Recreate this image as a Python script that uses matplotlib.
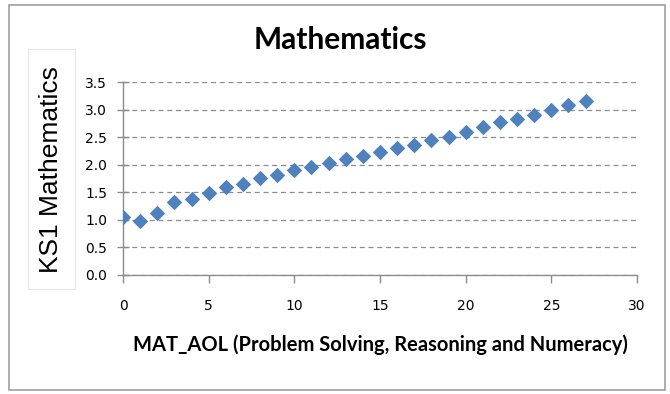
import matplotlib.pyplot as plt
from matplotlib.patches import Rectangle

# data
aol = list(range(28))
ks1 = [1.06, 0.98, 1.12, 1.32, 1.38, 1.48, 1.60, 1.65, 1.76, 1.82,
       1.90, 1.96, 2.03, 2.10, 2.16, 2.23, 2.30, 2.35, 2.44, 2.51,
       2.60, 2.68, 2.77, 2.83, 2.90, 3.00, 3.08, 3.15]
xticks = [0, 5, 10, 15, 20, 25, 30]
yticks = [0.0, 0.5, 1.0, 1.5, 2.0, 2.5, 3.0, 3.5]

BLUE = "#4F81BD"
GRID = "#8C8C8C"

W, H = 670, 394
fig = plt.figure(figsize=(W / 100, H / 100), dpi=100)
fig.patch.set_facecolor("white")

# outer chart frame
fig.add_artist(Rectangle((9 / W, 1 - 390 / H), 656 / W, 385 / H,
                         transform=fig.transFigure, fill=False,
                         edgecolor="#A0A0A0", lw=1.2))
# faint box behind the y label
fig.add_artist(Rectangle((28 / W, 1 - 289 / H), 47 / W, 240 / H,
                         transform=fig.transFigure, fill=False,
                         edgecolor="#E6E6E6", lw=0.8))

ax = fig.add_axes([123 / W, 1 - 275 / H, (637 - 123) / W, (275 - 82) / H])
ax.scatter(aol, ks1, marker="D", s=62, color=BLUE, zorder=3, linewidths=0)

ax.set_xlim(0, 30)
ax.set_ylim(0, 3.5)
ax.set_xticks(xticks)
ax.set_yticks(yticks)
ax.set_yticklabels([f"{v:.1f}" for v in yticks])
ax.yaxis.grid(True, linestyle=(0, (4, 3)), color=GRID, lw=0.9)
ax.set_axisbelow(True)

for s in ["top", "right"]:
    ax.spines[s].set_visible(False)
for s in ["left", "bottom"]:
    ax.spines[s].set_color(GRID)
    ax.spines[s].set_linewidth(1.0)
ax.tick_params(axis="both", colors=GRID, labelcolor="black",
               labelsize=10, width=1.0)
ax.tick_params(axis="x", length=6, pad=11)
ax.tick_params(axis="y", direction="inout", length=9, pad=7)

fig.text(340 / W, 1 - 40 / H, "Mathematics", ha="center", va="center",
         fontsize=21.5, weight="bold", family="Lato")
fig.text(51 / W, 1 - 170 / H, "KS1 Mathematics", ha="center", va="center",
         rotation=90, fontsize=19, family="Liberation Sans")
fig.text(380 / W, 1 - 345 / H,
         "MAT_AOL (Problem Solving, Reasoning and Numeracy)",
         ha="center", va="center", fontsize=14.5, weight="bold",
         family="Lato")

fig.savefig("out.png", dpi=100, facecolor="white")
